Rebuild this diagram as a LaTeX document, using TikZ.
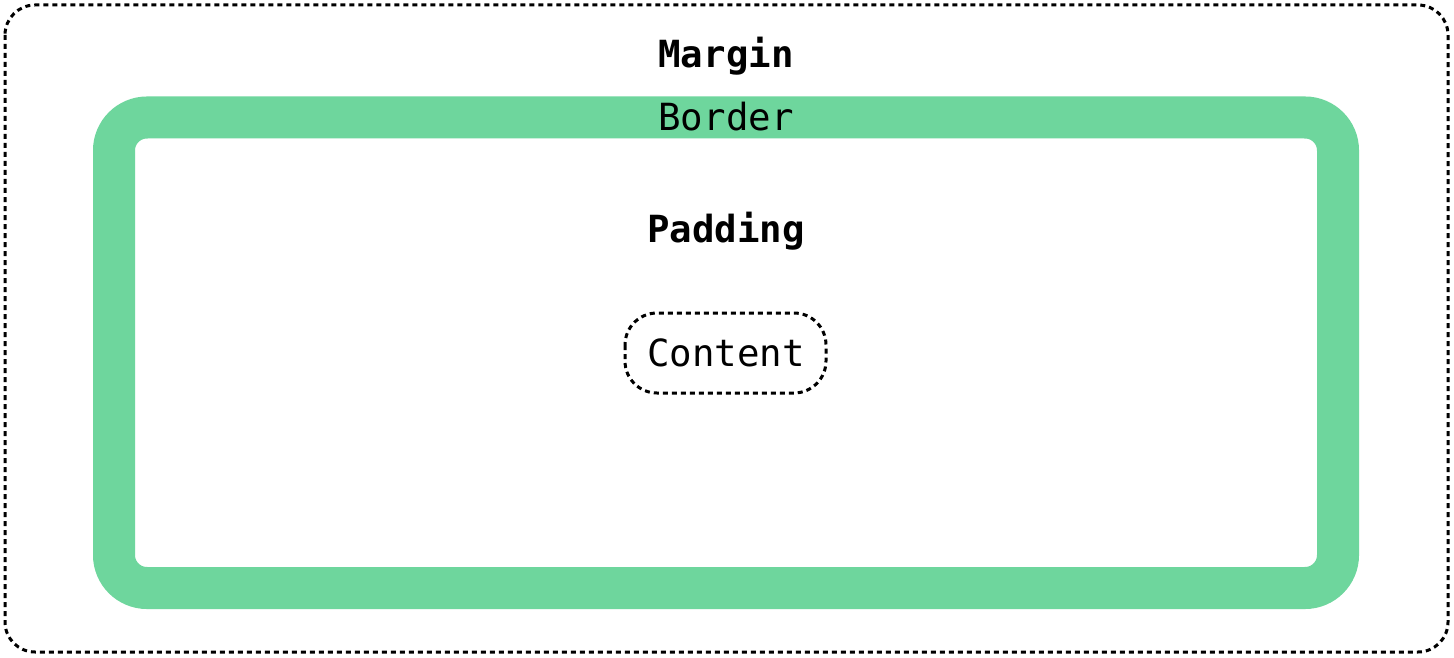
\documentclass[tikz,border=0pt]{standalone}
\usepackage{fontspec}
\newfontfamily\diagmono{DejaVu Sans Mono}
\definecolor{bordergreen}{HTML}{6ED69D}
\begin{document}
\begin{tikzpicture}[x=1pt,y=-1pt,
  dashline/.style={line width=3pt,dash pattern=on 5pt off 4pt},
  lbl/.style={font=\diagmono\fontsize{37.4}{40}\selectfont,anchor=base,inner sep=0pt},
  boldlbl/.style={lbl,font=\diagmono\bfseries\fontsize{37.4}{40}\selectfont}]
\useasboundingbox[fill=white] (0,0) rectangle (1454,658);
% margin box
\draw[dashline,rounded corners=30pt] (5,5) rectangle (1448,652);
% border
\draw[bordergreen,line width=42pt,rounded corners=33pt] (114,117.5) rectangle (1338,588);
% labels
\node[boldlbl] (margin) at (726,68) {Margin};
\node[lbl] (border) at (726,131) {Border};
\node[boldlbl] (padding) at (726,242) {Padding};
\node[lbl] (content) at (726,366) {Content};
\draw[dashline,rounded corners=32pt] (625,313) rectangle (826,393);
\end{tikzpicture}
\end{document}
